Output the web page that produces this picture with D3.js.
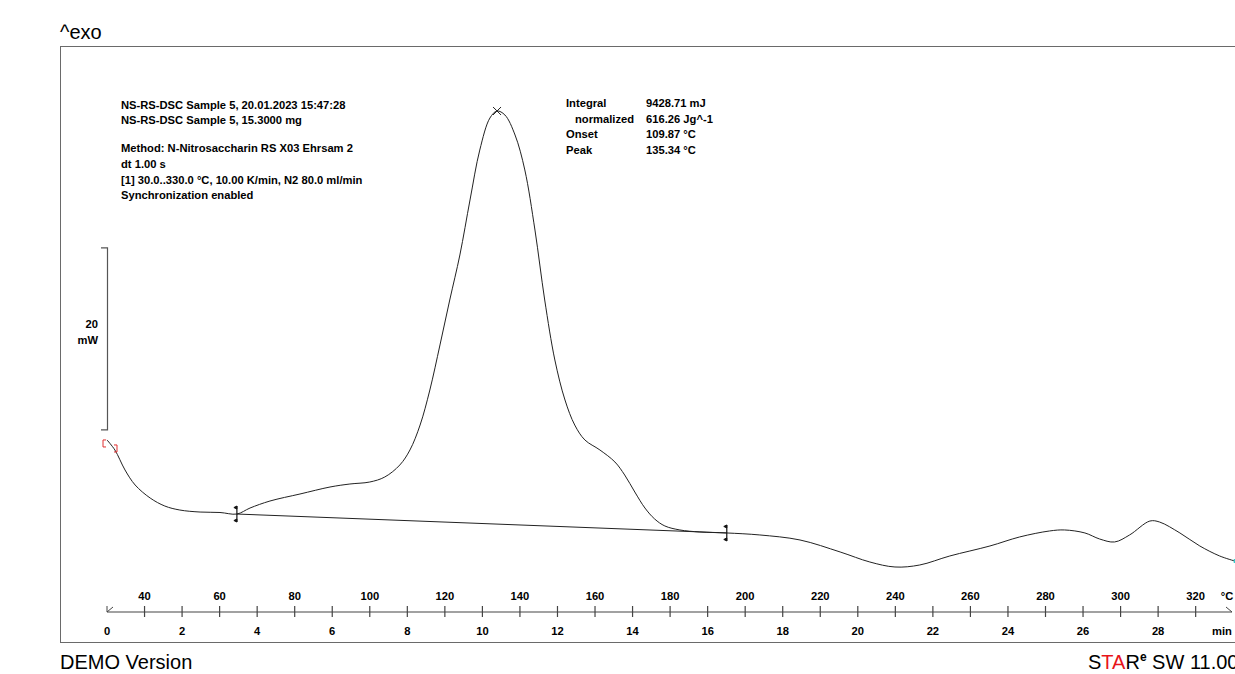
<!DOCTYPE html>
<html><head><meta charset="utf-8">
<script src="https://cdn.jsdelivr.net/npm/d3@7"></script>
<style>
html,body{margin:0;padding:0;background:#fff;overflow:hidden}
svg{display:block}
.b{font-family:"Liberation Sans",Arial,sans-serif;font-weight:bold;font-size:11.2px;fill:#000}
</style></head>
<body>
<script>
// ---- data (time in min, heat flow in mW) ----
const curveTime = [0.00,0.21,0.48,0.75,1.15,1.54,1.94,2.48,3.01,3.46,3.81,4.34,5.14,5.94,6.47,7.00,7.40,7.80,8.07,8.34,8.60,8.87,9.13,9.40,9.67,9.93,10.20,10.39,10.60,10.87,11.13,11.40,11.66,11.93,12.20,12.46,12.73,13.13,13.53,13.79,14.06,14.33,14.59,14.86,15.26,15.79,16.51,17.39,18.46,19.53,20.32,20.99,21.65,22.45,23.52,24.31,25.11,25.51,26.05,26.44,26.84,27.24,27.78,28.04,28.58,29.11,29.64,30.04];
const curveHeatFlow = [14.29,13.19,10.99,9.34,7.91,7.03,6.59,6.37,6.32,6.15,6.81,7.58,8.35,9.12,9.45,9.67,10.22,11.54,13.19,15.93,19.78,24.73,29.67,34.62,40.66,46.15,49.67,50.44,50.00,47.80,43.96,37.36,29.67,23.08,18.68,15.93,14.29,13.19,11.87,10.44,8.57,6.81,5.60,4.84,4.40,4.18,4.07,3.85,3.30,1.98,0.88,0.33,0.55,1.54,2.64,3.63,4.29,4.40,4.07,3.41,3.08,3.85,5.38,5.27,4.07,2.64,1.54,0.99];
const baselineTime = [3.46, 16.51];
const baselineHeatFlow = [6.15, 4.07];
const peakTime = 10.39, peakHeatFlow = 50.44;
const timeTickLabels = [0,2,4,6,8,10,12,14,16,18,20,22,24,26,28];
const tempTickLabels = [40,60,80,100,120,140,160,180,200,220,240,260,280,300,320];
const minorTicks = d3.range(1,30);
const scaleBarValue = 20, scaleBarBottomMW = 15.4;
const infoLines = ["NS-RS-DSC Sample 5, 20.01.2023 15:47:28","NS-RS-DSC Sample 5, 15.3000 mg","","Method: N-Nitrosaccharin RS X03 Ehrsam 2","dt 1.00 s","[1] 30.0..330.0 °C, 10.00 K/min, N2 80.0 ml/min","Synchronization enabled"];
const resultLabels = ["Integral","  normalized","Onset","Peak"];
const resultValues = ["9428.71 mJ","616.26 Jg^-1","109.87 °C","135.34 °C"];

const W=1235,H=674;
const svg=d3.select("body").append("svg").attr("width",W).attr("height",H);
const x=d3.scaleLinear().domain([0,30]).range([107,107+30*37.54]);
const xT=d3.scaleLinear().domain([30,330]).range(x.range());
const y=d3.scaleLinear().domain([0,20]).range([570,388]);

// titles
svg.append("text").attr("x",60).attr("y",39).style("font-family","Liberation Sans,Arial").style("font-size","20px").text("^exo");
svg.append("text").attr("x",60).attr("y",669).style("font-family","Liberation Sans,Arial").style("font-size","20px").text("DEMO Version");
const st=svg.append("text").attr("x",1088).attr("y",669).style("font-family","Liberation Sans,Arial").style("font-size","20px");
st.append("tspan").text("S");
st.append("tspan").attr("fill","#e8141b").text("TA");
st.append("tspan").text("R");
st.append("tspan").attr("dy",-8).style("font-size","12px").style("font-weight","bold").text("e");
st.append("tspan").attr("dy",8).text(" SW 11.00");

// frame
svg.append("rect").attr("x",60.5).attr("y",46.5).attr("width",1300).attr("height",596).attr("fill","none").attr("stroke","#6a6a6a").attr("stroke-width",1);

// info text
infoLines.forEach((t,i)=>{ if(t) svg.append("text").attr("class","b").attr("x",121).attr("y",109+[0,15,0,43,59,75,90][i]).text(t);});
const ry=[107,123,138,154];
resultLabels.forEach((t,i)=>svg.append("text").attr("class","b").attr("x",i==1?575:566).attr("y",ry[i]).text(t.trim()));
resultValues.forEach((t,i)=>svg.append("text").attr("class","b").attr("x",646).attr("y",ry[i]).text(t));

// scale bar
const sbTop=y(scaleBarBottomMW+scaleBarValue), sbBot=y(scaleBarBottomMW);
svg.append("path").attr("d",`M101,${sbTop}H107.5V${sbBot}H101`).attr("fill","none").attr("stroke","#555").attr("stroke-width",1.2);
svg.append("text").attr("class","b").attr("x",98).attr("y",(sbTop+sbBot)/2-11).attr("text-anchor","end").text(scaleBarValue);
svg.append("text").attr("class","b").attr("x",98).attr("y",(sbTop+sbBot)/2+5).attr("text-anchor","end").text("mW");

// curve
const data=curveTime.map((t,i)=>[t,curveHeatFlow[i]]);
svg.append("path").datum(data).attr("d",d3.line().x(d=>x(d[0])).y(d=>y(d[1])).curve(d3.curveCatmullRom.alpha(0.5)))
  .attr("fill","none").attr("stroke","#222").attr("stroke-width",1);

// start bracket (red)
const sx=x(curveTime[0]), sy=y(curveHeatFlow[0]);
svg.append("path").attr("d",`M${sx-1},${sy}H${sx-4}V${sy+7}H${sx-1}`).attr("fill","none").attr("stroke","#e03030").attr("stroke-width",1);
svg.append("path").attr("d",`M${sx+7},${sy+5}H${sx+10}V${sy+12}H${sx+7}`).attr("fill","none").attr("stroke","#e03030").attr("stroke-width",1);

// baseline
svg.append("line").attr("x1",x(baselineTime[0])).attr("y1",y(baselineHeatFlow[0])).attr("x2",x(baselineTime[1])).attr("y2",y(baselineHeatFlow[1])).attr("stroke","#222").attr("stroke-width",1);
baselineTime.forEach((t,i)=>{
  const bx=x(t), by=y(baselineHeatFlow[i]);
  svg.append("line").attr("x1",bx).attr("x2",bx).attr("y1",by-8).attr("y2",by+8).attr("stroke","#111").attr("stroke-width",1.2);
  svg.append("path").attr("d",`M${bx},${by-8}l-3,1.5l3,1.5z M${bx},${by+8}l-3,-1.5l3,-1.5z`).attr("fill","#111").attr("stroke","#111");
});

// peak marker
const px=x(peakTime), py=y(peakHeatFlow);
svg.append("path").attr("d",`M${px-4},${py-4}L${px+4},${py+4}M${px-4},${py+4}L${px+4},${py-4}`).attr("stroke","#222").attr("stroke-width",1);

// end marker
svg.append("rect").attr("x",x(curveTime[curveTime.length-1])-1).attr("y",y(curveHeatFlow[curveHeatFlow.length-1])-2).attr("width",2).attr("height",4).attr("fill","#3cc");

// axis
const ay=612;
svg.append("line").attr("x1",x(0)).attr("x2",1232).attr("y1",ay).attr("y2",ay).attr("stroke","#444").attr("stroke-width",1.2);
svg.append("path").attr("d",`M${x(0)},${ay-6}V${ay}L${x(0)+6},${ay-5}`).attr("fill","none").attr("stroke","#444").attr("stroke-width",1);
svg.append("path").attr("d",`M1226,${ay-5}L1232,${ay}`).attr("fill","none").attr("stroke","#444").attr("stroke-width",1);
svg.selectAll(".tk").data(minorTicks).join("line").attr("x1",d=>x(d)).attr("x2",d=>x(d)).attr("y1",ay-6).attr("y2",ay+5).attr("stroke","#444").attr("stroke-width",1.2);
svg.selectAll(".tl").data(timeTickLabels).join("text").attr("class","b").attr("x",d=>x(d)).attr("y",635).attr("text-anchor","middle").text(d=>d);
svg.selectAll(".Tl").data(tempTickLabels).join("text").attr("class","b").attr("x",d=>xT(d)).attr("y",600).attr("text-anchor","middle").text(d=>d);
svg.append("text").attr("class","b").attr("x",1227).attr("y",600).attr("text-anchor","middle").text("°C");
svg.append("text").attr("class","b").attr("x",1222).attr("y",635).attr("text-anchor","middle").text("min");
</script>
</body></html>
